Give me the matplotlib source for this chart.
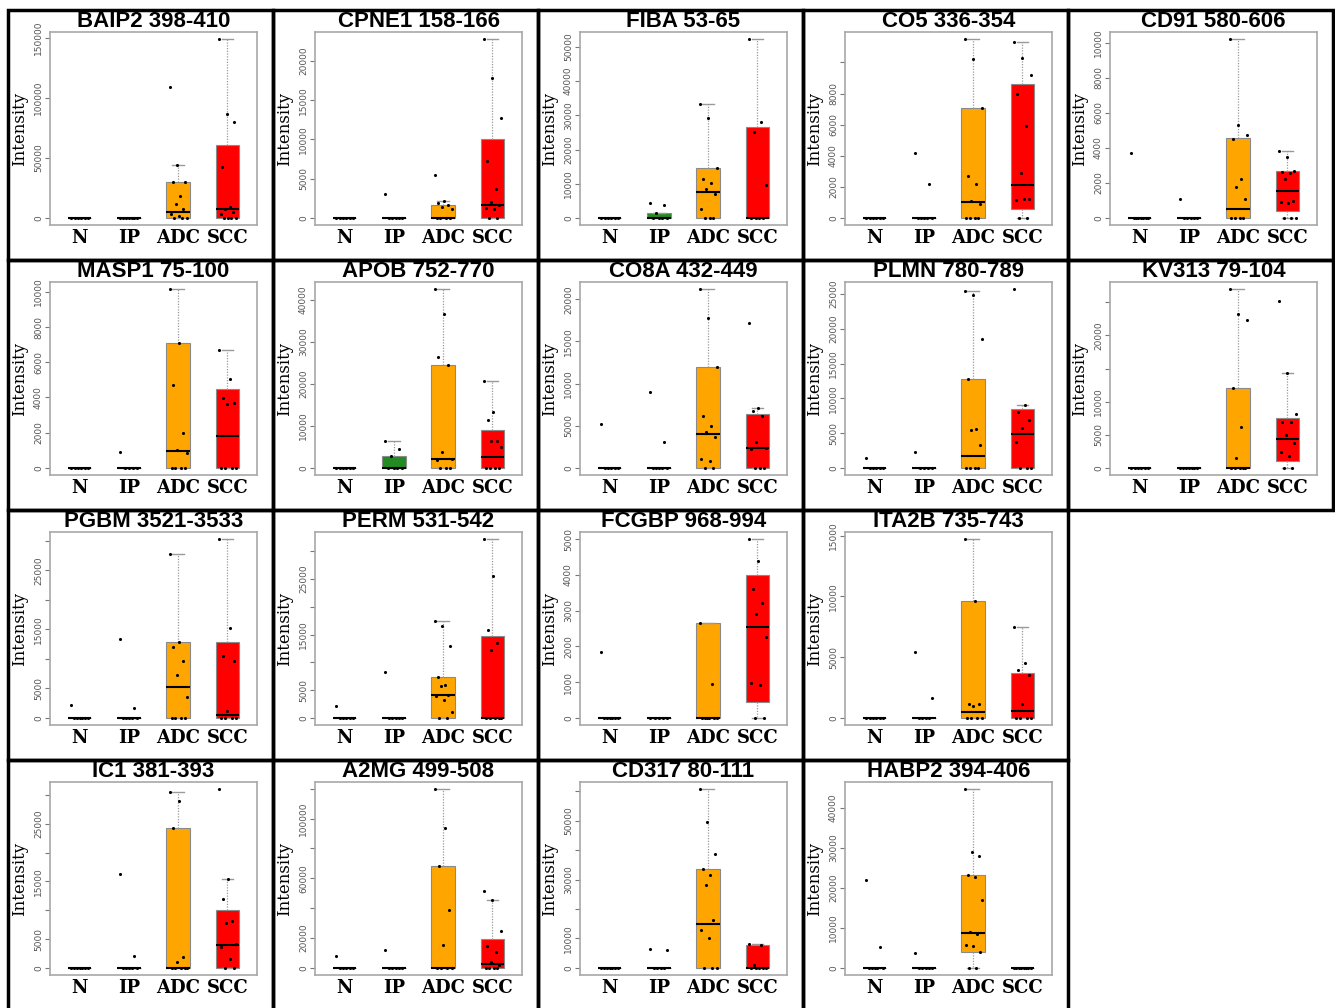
import numpy as np
import matplotlib
matplotlib.use('Agg')
import matplotlib.pyplot as plt
from matplotlib.patches import Rectangle

# Panel titles (protein + peptide range)
titles = ['BAIP2 398-410', 'CPNE1 158-166', 'FIBA 53-65', 'CO5 336-354', 'CD91 580-606',
          'MASP1 75-100', 'APOB 752-770', 'CO8A 432-449', 'PLMN 780-789', 'KV313 79-104',
          'PGBM 3521-3533', 'PERM 531-542', 'FCGBP 968-994', 'ITA2B 735-743',
          'IC1 381-393', 'A2MG 499-508', 'CD317 80-111', 'HABP2 394-406']

# grid slot (row, col) of each panel: 5 per row for rows 1-2, 4 per row after
slots = [(0, 0), (0, 1), (0, 2), (0, 3), (0, 4),
         (1, 0), (1, 1), (1, 2), (1, 3), (1, 4),
         (2, 0), (2, 1), (2, 2), (2, 3),
         (3, 0), (3, 1), (3, 2), (3, 3)]

groups = ['N', 'IP', 'ADC', 'SCC']

# Individual sample intensities per panel, groups in order N, IP, ADC, SCC
points = [
    [[0, 0, 0, 0, 0, 0], [0, 0, 0, 0, 0, 0, 0],
     [109000, 44000, 30000, 30000, 18000, 11500, 7500, 3000, 1500, 0, 0, 0],
     [149000, 87000, 80000, 42000, 9000, 7000, 5000, 3000, 0, 0, 0, 0]],
    [[0, 0, 0, 0, 0, 0], [3100, 0, 0, 0, 0, 0],
     [5500, 2100, 1900, 1700, 1400, 1100, 0, 0, 0, 0],
     [22800, 17800, 12700, 7200, 3700, 2000, 1600, 1300, 1100, 0, 0]],
    [[0, 0, 0, 0, 0, 0], [4400, 3900, 1300, 0, 0, 0, 0],
     [33300, 29300, 14500, 11300, 10100, 8500, 6900, 2700, 0, 0, 0],
     [52300, 28100, 25200, 9700, 0, 0, 0, 0]],
    [[0, 0, 0, 0, 0, 0], [4200, 2200, 0, 0, 0, 0, 0],
     [11500, 10200, 7050, 2700, 2150, 1100, 900, 0, 0, 0, 0],
     [11300, 10300, 9200, 8000, 5900, 2900, 1200, 1150, 1200, 0, 0]],
    [[3700, 0, 0, 0, 0, 0, 0, 0], [1100, 0, 0, 0, 0, 0],
     [10200, 5300, 4750, 4500, 2200, 1750, 1050, 0, 0, 0, 0],
     [3800, 3450, 2650, 2600, 2550, 2200, 950, 900, 850, 0, 0, 0]],
    [[0, 0, 0, 0, 0, 0], [900, 0, 0, 0, 0],
     [10150, 7100, 4700, 2000, 1000, 850, 0, 0, 0, 0],
     [6700, 5050, 3950, 3700, 3650, 0, 0, 0, 0]],
    [[0, 0, 0, 0, 0, 0], [6400, 4600, 2800, 0, 0, 0, 0],
     [42600, 36700, 26500, 24400, 3800, 2200, 1800, 0, 0, 0],
     [20800, 13400, 11300, 6400, 6300, 5000, 0, 0, 0, 0]],
    [[5200, 0, 0, 0, 0, 0], [9000, 3100, 0, 0, 0, 0, 0],
     [21200, 17800, 12000, 6100, 5000, 4300, 3700, 1000, 850, 0, 0],
     [17200, 7100, 6700, 6100, 3100, 2400, 2200, 0, 0, 0]],
    [[1400, 0, 0, 0, 0, 0], [2300, 0, 0, 0, 0],
     [25500, 24900, 18500, 12800, 5600, 5500, 3300, 0, 0, 0, 0],
     [25700, 9000, 8000, 6900, 5800, 3700, 0, 0, 0]],
    [[0, 0, 0, 0, 0, 0], [0, 0, 0, 0, 0, 0, 0],
     [27000, 23300, 22400, 12100, 6200, 1500, 0, 0, 0, 0, 0],
     [25200, 14300, 8200, 7000, 7000, 5000, 3800, 2400, 1800, 0, 0]],
    [[2100, 0, 0, 0, 0, 0, 0], [13400, 1700, 0, 0, 0, 0, 0],
     [27800, 12800, 12000, 9700, 7300, 3500, 0, 0, 0, 0],
     [30300, 15300, 10500, 9600, 1200, 0, 0, 0, 0]],
    [[2100, 0, 0, 0, 0, 0], [8300, 0, 0, 0, 0, 0],
     [17500, 16500, 13000, 7300, 6000, 5700, 4200, 4000, 3300, 1000, 0, 0],
     [32200, 25500, 15800, 13500, 12300, 0, 0, 0, 0, 0]],
    [[1850, 0, 0, 0, 0, 0, 0], [0, 0, 0, 0, 0],
     [2650, 950, 0, 0, 0, 0, 0, 0],
     [5000, 4400, 3600, 3200, 2900, 2250, 980, 920, 0, 0]],
    [[0, 0, 0, 0, 0, 0], [5400, 1600, 0, 0, 0, 0],
     [14700, 9600, 1150, 1100, 950, 0, 0, 0, 0],
     [7500, 4500, 3900, 3550, 1100, 0, 0, 0, 0]],
    [[0, 0, 0, 0, 0, 0, 0], [16200, 2100, 0, 0, 0, 0, 0],
     [30500, 29000, 24200, 1900, 1100, 0, 0, 0, 0, 0],
     [31000, 15400, 11900, 8200, 7800, 4200, 3600, 1500, 0, 0]],
    [[8000, 0, 0, 0, 0, 0], [12000, 0, 0, 0, 0, 0],
     [119700, 94000, 68400, 38500, 15000, 0, 0, 0, 0],
     [51800, 45500, 24400, 14400, 10800, 3600, 2200, 0, 0, 0, 0]],
    [[0, 0, 0, 0, 0, 0, 0], [6500, 5900, 0, 0, 0, 0],
     [60700, 49400, 38600, 33700, 31400, 28100, 16400, 13000, 10200, 0, 0, 0],
     [7950, 7800, 1000, 0, 0, 0, 0, 0]],
    [[22000, 5200, 0, 0, 0, 0, 0], [3800, 0, 0, 0, 0, 0],
     [44700, 29000, 28100, 23200, 22800, 16900, 9000, 8500, 5800, 5500, 3900, 0, 0],
     [0, 0, 0, 0, 0, 0, 0, 0]],
]

# Box stats per group: (q1, median, q3, whisker low, whisker high)
Z = (0, 0, 0, 0, 0)
boxes = [
    [Z, Z, (0, 5000, 30000, 0, 44000), (0, 7000, 61000, 0, 149000)],
    [Z, Z, (0, 0, 1600, 0, 2100), (0, 1600, 10000, 0, 22800)],
    [Z, (0, 100, 1400, 0, 1400), (0, 7700, 14500, 0, 33300), (0, 0, 26700, 0, 52300)],
    [Z, Z, (0, 1000, 7050, 0, 11500), (600, 2100, 8600, 0, 11300)],
    [Z, Z, (0, 500, 4550, 0, 10200), (400, 1550, 2650, 0, 3800)],
    [Z, Z, (0, 950, 7100, 0, 10150), (0, 1800, 4500, 0, 6700)],
    [Z, (0, 0, 2800, 0, 6400), (0, 2000, 24400, 0, 42600), (0, 2500, 9000, 0, 20800)],
    [Z, Z, (0, 4000, 12000, 0, 21200), (0, 2300, 6400, 0, 7100)],
    [Z, Z, (0, 1700, 12800, 0, 25500), (0, 4800, 8500, 0, 9000)],
    [Z, Z, (0, 0, 12100, 0, 27000), (1000, 4300, 7600, 0, 14300)],
    [Z, Z, (0, 5300, 12800, 0, 27800), (0, 500, 12800, 0, 30300)],
    [Z, Z, (0, 4100, 7300, 0, 17500), (0, 0, 14700, 0, 32200)],
    [Z, Z, (0, 0, 2650, 0, 2650), (450, 2550, 4000, 0, 5000)],
    [Z, Z, (0, 500, 9600, 0, 14700), (0, 550, 3700, 0, 7500)],
    [Z, Z, (0, 0, 24200, 0, 30500), (0, 3900, 10000, 0, 15400)],
    [Z, Z, (0, 0, 68400, 0, 119700), (0, 2900, 19300, 0, 45500)],
    [Z, Z, (0, 14800, 33700, 0, 60700), (0, 0, 7800, 0, 7950)],
    [Z, Z, (3900, 8800, 23200, 0, 44700), Z],
]

# y axis tick step and labels ('' = tick drawn, label dropped as in the original)
ytick_step = [50000, 5000, 10000, 2000, 2000, 2000, 10000, 5000, 5000, 5000,
              5000, 5000, 1000, 5000, 5000, 20000, 10000, 10000]
ytick_labels = [
    ['0', '50000', '100000', '150000'],
    ['0', '5000', '10000', '15000', '20000'],
    ['0', '10000', '20000', '30000', '40000', '50000'],
    ['0', '2000', '4000', '6000', '8000', ''],
    ['0', '2000', '4000', '6000', '8000', '10000'],
    ['0', '2000', '4000', '6000', '8000', '10000'],
    ['0', '10000', '20000', '30000', '40000'],
    ['0', '5000', '10000', '15000', '20000'],
    ['0', '5000', '10000', '15000', '20000', '25000'],
    ['0', '5000', '10000', '', '20000', ''],
    ['0', '5000', '', '15000', '', '25000', ''],
    ['0', '5000', '', '15000', '', '25000', ''],
    ['0', '1000', '2000', '3000', '4000', '5000'],
    ['0', '5000', '10000', '15000'],
    ['0', '5000', '', '15000', '', '25000', ''],
    ['0', '20000', '', '60000', '', '100000', ''],
    ['0', '10000', '', '30000', '', '50000', ''],
    ['0', '10000', '20000', '30000', '40000'],
]

box_colors = ['white', 'forestgreen', 'orange', 'red']


def spread(n):
    # fixed (non random) horizontal scatter of the dots
    base = np.linspace(-0.17, 0.17, n)
    order = np.argsort((np.arange(n) * 0.618) % 1.0)
    return base[order]


W, H = 1335, 1008
fig = plt.figure(figsize=(W / 100, H / 100), dpi=100)

col_left = [8, 273, 538, 803, 1068]
row_top = [10, 260, 510, 760]
pw, ph = 265, 250

for k in range(len(titles)):
    row, col = slots[k]
    px, py = col_left[col], row_top[row]

    # panel border
    fig.add_artist(Rectangle((px / W, 1 - (py + ph) / H), pw / W, ph / H,
                             transform=fig.transFigure, fill=False,
                             ec='black', lw=2.5))

    ax = fig.add_axes([(px + 42) / W, 1 - (py + 215) / H, 207 / W, 193 / H])

    stats = []
    for g in range(4):
        q1, med, q3, lo, hi = boxes[k][g]
        stats.append({'q1': q1, 'med': med, 'q3': q3, 'whislo': lo,
                      'whishi': hi, 'fliers': []})
    bp = ax.bxp(stats, positions=[1, 2, 3, 4], widths=0.48, patch_artist=True,
                showfliers=False, manage_ticks=False,
                boxprops=dict(edgecolor='#8a8a8a', linewidth=0.8),
                whiskerprops=dict(color='#9a9a9a', linestyle=(0, (1, 1.2)), linewidth=0.9),
                capprops=dict(color='#9a9a9a', linewidth=1.0),
                medianprops=dict(color='black', linewidth=1.5))
    for patch, c in zip(bp['boxes'], box_colors):
        patch.set_facecolor(c)

    allv = []
    for g in range(4):
        vals = np.array(points[k][g], dtype=float)
        allv.extend(vals)
        ax.scatter(g + 1 + spread(len(vals)), vals, s=5, c='black', zorder=5,
                   linewidths=0)

    ymax = max(max(allv), max(b[4] for b in boxes[k]))
    ax.set_ylim(-0.04 * ymax, 1.04 * ymax)
    ax.set_xlim(0.4, 4.6)

    labs = ytick_labels[k]
    ax.set_yticks([ytick_step[k] * i for i in range(len(labs))])
    ax.set_yticklabels(labs)
    ax.tick_params(axis='y', colors='#777777', labelcolor='#555555', labelsize=6.5,
                   length=3.5, width=0.8, pad=1.5, labelrotation=90)
    for t in ax.get_yticklabels():
        t.set_va('center')

    ax.set_xticks([1, 2, 3, 4])
    ax.set_xticklabels(groups, fontsize=13, fontweight='bold', family='DejaVu Serif')
    ax.tick_params(axis='x', length=0, pad=3)

    for s in ax.spines.values():
        s.set_color('#a8a8a8')
        s.set_linewidth(1.2)

    ax.set_title(titles[k], fontsize=16, fontweight='bold',
                 family=['Liberation Sans', 'DejaVu Sans'], pad=2.5)
    ax.text(-0.145, 0.5, 'Intensity', transform=ax.transAxes, rotation=90,
            ha='center', va='center', fontsize=12, family='DejaVu Serif')

fig.savefig('out.png', dpi=100, facecolor='white')
